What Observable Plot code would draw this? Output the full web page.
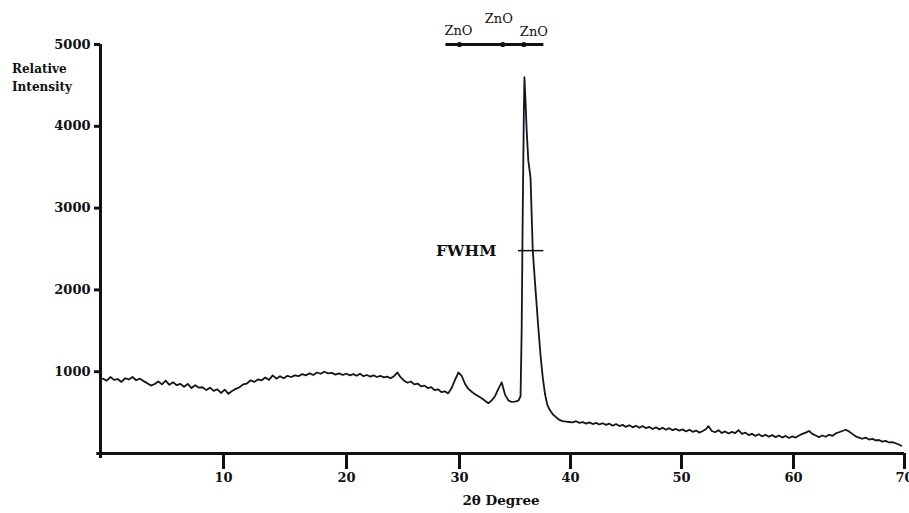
<!DOCTYPE html>
<html>
<head>
<meta charset="utf-8">
<script src="https://cdn.jsdelivr.net/npm/d3@7"></script>
<script src="https://cdn.jsdelivr.net/npm/@observablehq/plot@0.6"></script>
<style>
  html, body { margin: 0; padding: 0; background: #fff; }
  #wrap { position: relative; width: 909px; height: 513px; overflow: hidden; }
  .lbl { position: absolute; font-family: "DejaVu Serif", serif; font-weight: bold; color: #111; white-space: nowrap; }
</style>
</head>
<body>
<div id="wrap"></div>
<script>
const twoTheta = [
  0.2,0.5,0.8,1.1,1.4,1.7,2.0,2.3,2.6,2.9,3.2,3.5,3.8,4.1,4.4,4.7,5.0,5.3,5.6,5.9,
  6.2,6.5,6.8,7.1,7.4,7.7,8.0,8.3,8.6,8.9,9.2,9.5,9.8,10.1,10.4,10.7,11.0,11.3,11.6,11.9,
  12.2,12.5,12.8,13.1,13.4,13.7,14.0,14.3,14.6,14.9,15.2,15.5,15.8,16.1,16.4,16.7,17.0,17.3,17.6,17.9,
  18.2,18.5,18.8,19.1,19.4,19.7,20.0,20.3,20.6,20.9,21.2,21.5,21.8,22.1,22.4,22.7,23.0,23.3,23.6,23.9,
  24.2,24.5,24.8,25.1,25.4,25.7,26.0,26.3,26.6,26.9,27.2,27.5,27.8,28.1,28.4,28.7,29.0,29.3,29.6,29.9,
  30.2,30.5,30.8,31.1,31.4,31.7,32.0,32.3,32.6,32.9,33.2,33.5,33.8,34.1,34.4,34.7,35.0,35.3,35.5,35.6,
  35.7,35.8,35.85,35.95,36.05,36.2,36.4,36.6,36.85,37.1,37.3,37.5,37.7,37.9,38.1,38.4,38.7,39.0,39.3,39.6,
  39.9,40.2,40.5,40.8,41.1,41.4,41.7,42.0,42.3,42.6,42.9,43.2,43.5,43.8,44.1,44.4,44.7,45.0,45.3,45.6,
  45.9,46.2,46.5,46.8,47.1,47.4,47.7,48.0,48.3,48.6,48.9,49.2,49.5,49.8,50.1,50.4,50.7,51.0,51.3,51.6,
  51.9,52.2,52.4,52.7,53.0,53.3,53.6,53.9,54.2,54.5,54.8,55.1,55.4,55.7,56.0,56.3,56.6,56.9,57.2,57.5,
  57.8,58.1,58.4,58.7,59.0,59.3,59.6,59.9,60.2,60.5,60.8,61.1,61.4,61.7,62.0,62.3,62.6,62.9,63.2,63.5,
  63.8,64.1,64.4,64.7,65.0,65.3,65.6,65.9,66.2,66.5,66.8,67.1,67.4,67.7,68.0,68.3,68.6,68.9,69.2,69.5,
  69.7
];
const intensity = [
  915,890,935,900,910,875,920,905,935,895,915,885,860,830,850,880,845,890,840,870,
  835,850,815,850,800,835,805,810,775,805,765,785,740,780,730,765,790,810,845,855,
  895,875,905,895,930,900,955,915,945,920,950,935,955,945,970,955,980,960,990,975,
  1000,980,985,965,980,960,975,955,970,950,975,945,960,940,955,935,950,930,940,920,
  945,990,930,890,865,880,845,855,820,830,800,810,775,785,750,760,735,800,900,990,
  950,850,790,755,725,700,675,645,615,650,700,790,870,720,650,630,635,645,700,1500,
  3000,4200,4600,4300,3950,3580,3370,2480,2000,1540,1200,930,730,600,540,480,445,410,395,390,
  385,380,395,375,385,365,380,360,375,355,370,350,365,340,360,335,350,325,345,320,
  340,315,335,310,325,300,320,295,315,290,310,285,300,280,295,270,290,265,280,255,
  275,300,335,275,260,285,250,270,245,265,250,285,240,255,225,240,215,235,210,230,
  205,225,200,220,195,215,190,210,195,220,240,255,275,240,220,200,220,205,230,215,
  245,260,275,290,270,240,210,195,180,195,170,180,160,165,145,155,135,140,125,110,
  95
];
const xTicks = [10, 20, 30, 40, 50, 60, 70];
const yTicks = [1000, 2000, 3000, 4000, 5000];
// the printed 2θ axis is not evenly spaced: its tick stops
const xStops = [0, 10, 20, 30, 40, 50, 60, 70];
const yDomain = [0, 5000];
const znoPeaks = [30.0, 33.9, 35.8];
const znoLabels = ["ZnO", "ZnO", "ZnO"];
const znoBar = [28.8, 37.6];
const fwhmLevel = 2480;
const fwhmSpan = [35.3, 37.6];
const yLabelLines = ["Relative", "Intensity"];
const xLabel = "2θ Degree";

const rows = twoTheta.map((t, i) => ({t, v: intensity[i]}));
const serif = "DejaVu Serif";

const chart = Plot.plot({
  width: 909,
  height: 513,
  marginTop: 44,
  marginBottom: 60,
  marginLeft: 100,
  marginRight: 5,
  style: {background: "white", color: "#111", fontFamily: serif, overflow: "visible"},
  x: {type: "linear", domain: xStops, range: [100, 223, 346, 459, 570, 681, 793, 904]},
  y: {type: "linear", domain: yDomain},
  marks: [
    Plot.axisY({ticks: yTicks, tickSize: 6, tickPadding: 4, strokeWidth: 3, fontSize: 13, fontWeight: "bold", fontFamily: serif, label: null, tickFormat: d => String(d)}),
    Plot.axisX({ticks: xTicks, tickSize: 16, tickPadding: 3, strokeWidth: 3, fontSize: 13, fontWeight: "bold", fontFamily: serif, label: null}),
    Plot.ruleY([yDomain[0]], {x1: xStops[0] - 0.3, x2: xStops[xStops.length - 1], strokeWidth: 3, stroke: "#111"}),
    Plot.ruleX([xStops[0]], {y1: -60, y2: yDomain[1], strokeWidth: 3, stroke: "#111"}),
    Plot.line(rows, {x: "t", y: "v", stroke: "#151520", strokeWidth: 1.8, strokeLinejoin: "round"}),
    // ZnO reference bar
    Plot.ruleY([yDomain[1]], {x1: znoBar[0], x2: znoBar[1], strokeWidth: 3, stroke: "#111"}),
    Plot.dot(znoPeaks, {x: d => d, y: () => yDomain[1], r: 2.6, fill: "#111", stroke: "none"}),
    Plot.text([znoPeaks[0]], {x: d => d, y: () => yDomain[1], text: () => znoLabels[0], dy: -14, dx: -1, fontSize: 13, fontFamily: serif, fill: "#111"}),
    Plot.text([znoPeaks[1]], {x: d => d, y: () => yDomain[1], text: () => znoLabels[1], dy: -26, dx: -4, fontSize: 13, fontFamily: serif, fill: "#111"}),
    Plot.text([znoPeaks[2]], {x: d => d, y: () => yDomain[1], text: () => znoLabels[2], dy: -13, dx: 10, fontSize: 13, fontFamily: serif, fill: "#111"}),
    // FWHM marker
    Plot.ruleY([fwhmLevel], {x1: fwhmSpan[0], x2: fwhmSpan[1], strokeWidth: 1.5, stroke: "#111"}),
    Plot.text([fwhmLevel], {x: () => fwhmSpan[0], y: d => d, text: () => "FWHM", textAnchor: "end", dx: -22, fontSize: 15.5, fontWeight: "bold", fontFamily: serif, fill: "#111"})
  ]
});

const wrap = document.getElementById("wrap");
wrap.appendChild(chart);

const yl = document.createElement("div");
yl.className = "lbl";
yl.style.cssText = "left:12px; top:60px; font-size:12px; line-height:18px;";
yl.innerHTML = yLabelLines.join("<br>");
wrap.appendChild(yl);

const xl = document.createElement("div");
xl.className = "lbl";
xl.style.cssText = "left:501px; top:491px; font-size:13.5px; line-height:18px; transform:translateX(-50%);";
xl.textContent = xLabel;
wrap.appendChild(xl);
</script>
</body>
</html>
